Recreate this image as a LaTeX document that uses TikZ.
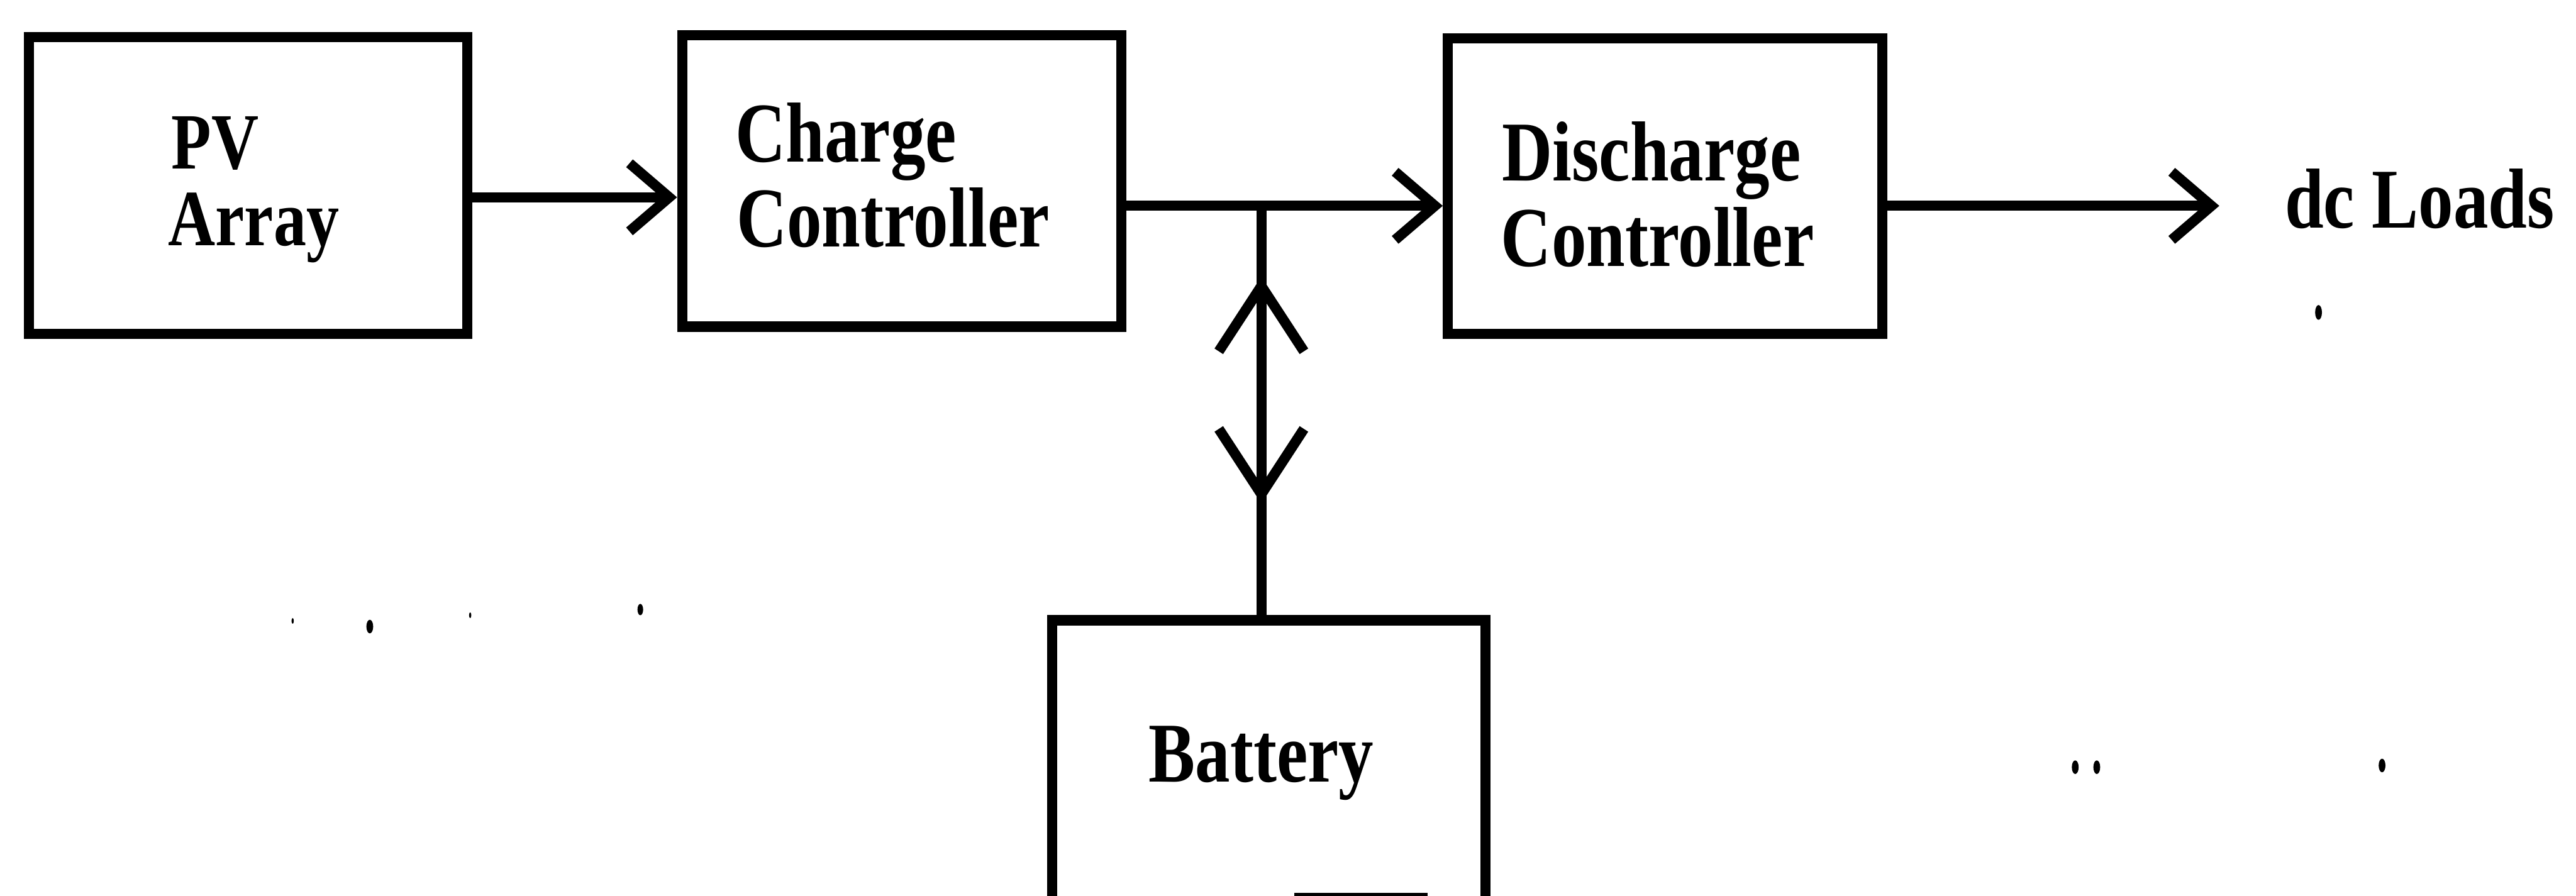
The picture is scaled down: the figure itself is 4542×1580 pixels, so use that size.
\documentclass[tikz,border=0pt]{standalone}
\usepackage{fontspec}
\setmainfont{Liberation Serif}
\newfontfamily\diagfont[FakeStretch=0.82]{Liberation Serif Bold}
\usetikzlibrary{arrows.meta}
\begin{document}
\begin{tikzpicture}[x=0.01cm, y=-0.01cm,
  box/.style={draw, rectangle, line width=1.8mm, inner sep=0pt},
  lbl/.style={font=\diagfont\fontsize{42.7}{50}\selectfont, inner sep=0pt, anchor=base west},
  smalllbl/.style={lbl, font=\diagfont\fontsize{40}{46}\selectfont},
  conn/.style={line width=1.8mm},
  harrow/.style={conn, -{Straight Barb[length=7mm, width=12mm]}},
  varrow/.style={conn, -{Straight Barb[length=11.5mm, width=15mm]}},
  speck/.style={fill=black}]
\useasboundingbox (0,0) rectangle (4542,1580);
\fill[white] (0,0) rectangle (4542,1580);
\clip (0,0) rectangle (4542,1580);
% boxes
\node[box, minimum width=7.73cm, minimum height=5.23cm] (pv) at (437.5,327.5) {};
\node[box, minimum width=7.74cm, minimum height=5.14cm] (cc) at (1590,319) {};
\node[box, minimum width=7.66cm, minimum height=5.21cm] (dc) at (2936,328.5) {};
\node[box, minimum width=7.64cm, minimum height=7cm, anchor=north] (bat) at (2237,1085) {};
% labels
\node[smalllbl] (pv1) at (302,298) {PV};
\node[smalllbl] (pv2) at (296,433) {Array};
\node[lbl] (cc1) at (1296,286) {Charge};
\node[lbl] (cc2) at (1298,435) {Controller};
\node[lbl] (dc1) at (2648,319) {Discharge};
\node[lbl] (dc2) at (2646,470) {Controller};
\node[lbl] (bt) at (2025,1379) {Battery};
\node[lbl] (ld) at (4028,402) {dc Loads};
% connectors
\coordinate (jn) at (2224,363);
\coordinate (utip) at (2224,488);
\coordinate (dtip) at (2224,888);
\coordinate (load) at (3913,363);
\draw[harrow] (pv.east |- 0,348) -- (cc.west |- 0,348);
\draw[conn] (cc.east |- jn) -- (jn);
\draw[harrow] (jn) -- (dc.west |- jn);
\draw[varrow] (jn) -- (dtip);
\draw[varrow] (jn |- bat.north) -- (utip);
\draw[harrow] (dc.east |- jn) -- (load);
% specks
\fill[speck] (4088,551) ellipse (6 and 13);
\fill[speck] (1129,1075) ellipse (5 and 10);
\fill[speck] (652,1105) ellipse (6 and 12);
\fill[speck] (829,1085) ellipse (2 and 5);
\fill[speck] (516,1095) ellipse (2 and 5);
\fill[speck] (3659,1353) ellipse (6 and 12);
\fill[speck] (3697,1353) ellipse (6 and 12);
\fill[speck] (4200,1350) ellipse (6 and 12);
\fill[speck] (2282,1575) rectangle (2517,1580);
\end{tikzpicture}
\end{document}
